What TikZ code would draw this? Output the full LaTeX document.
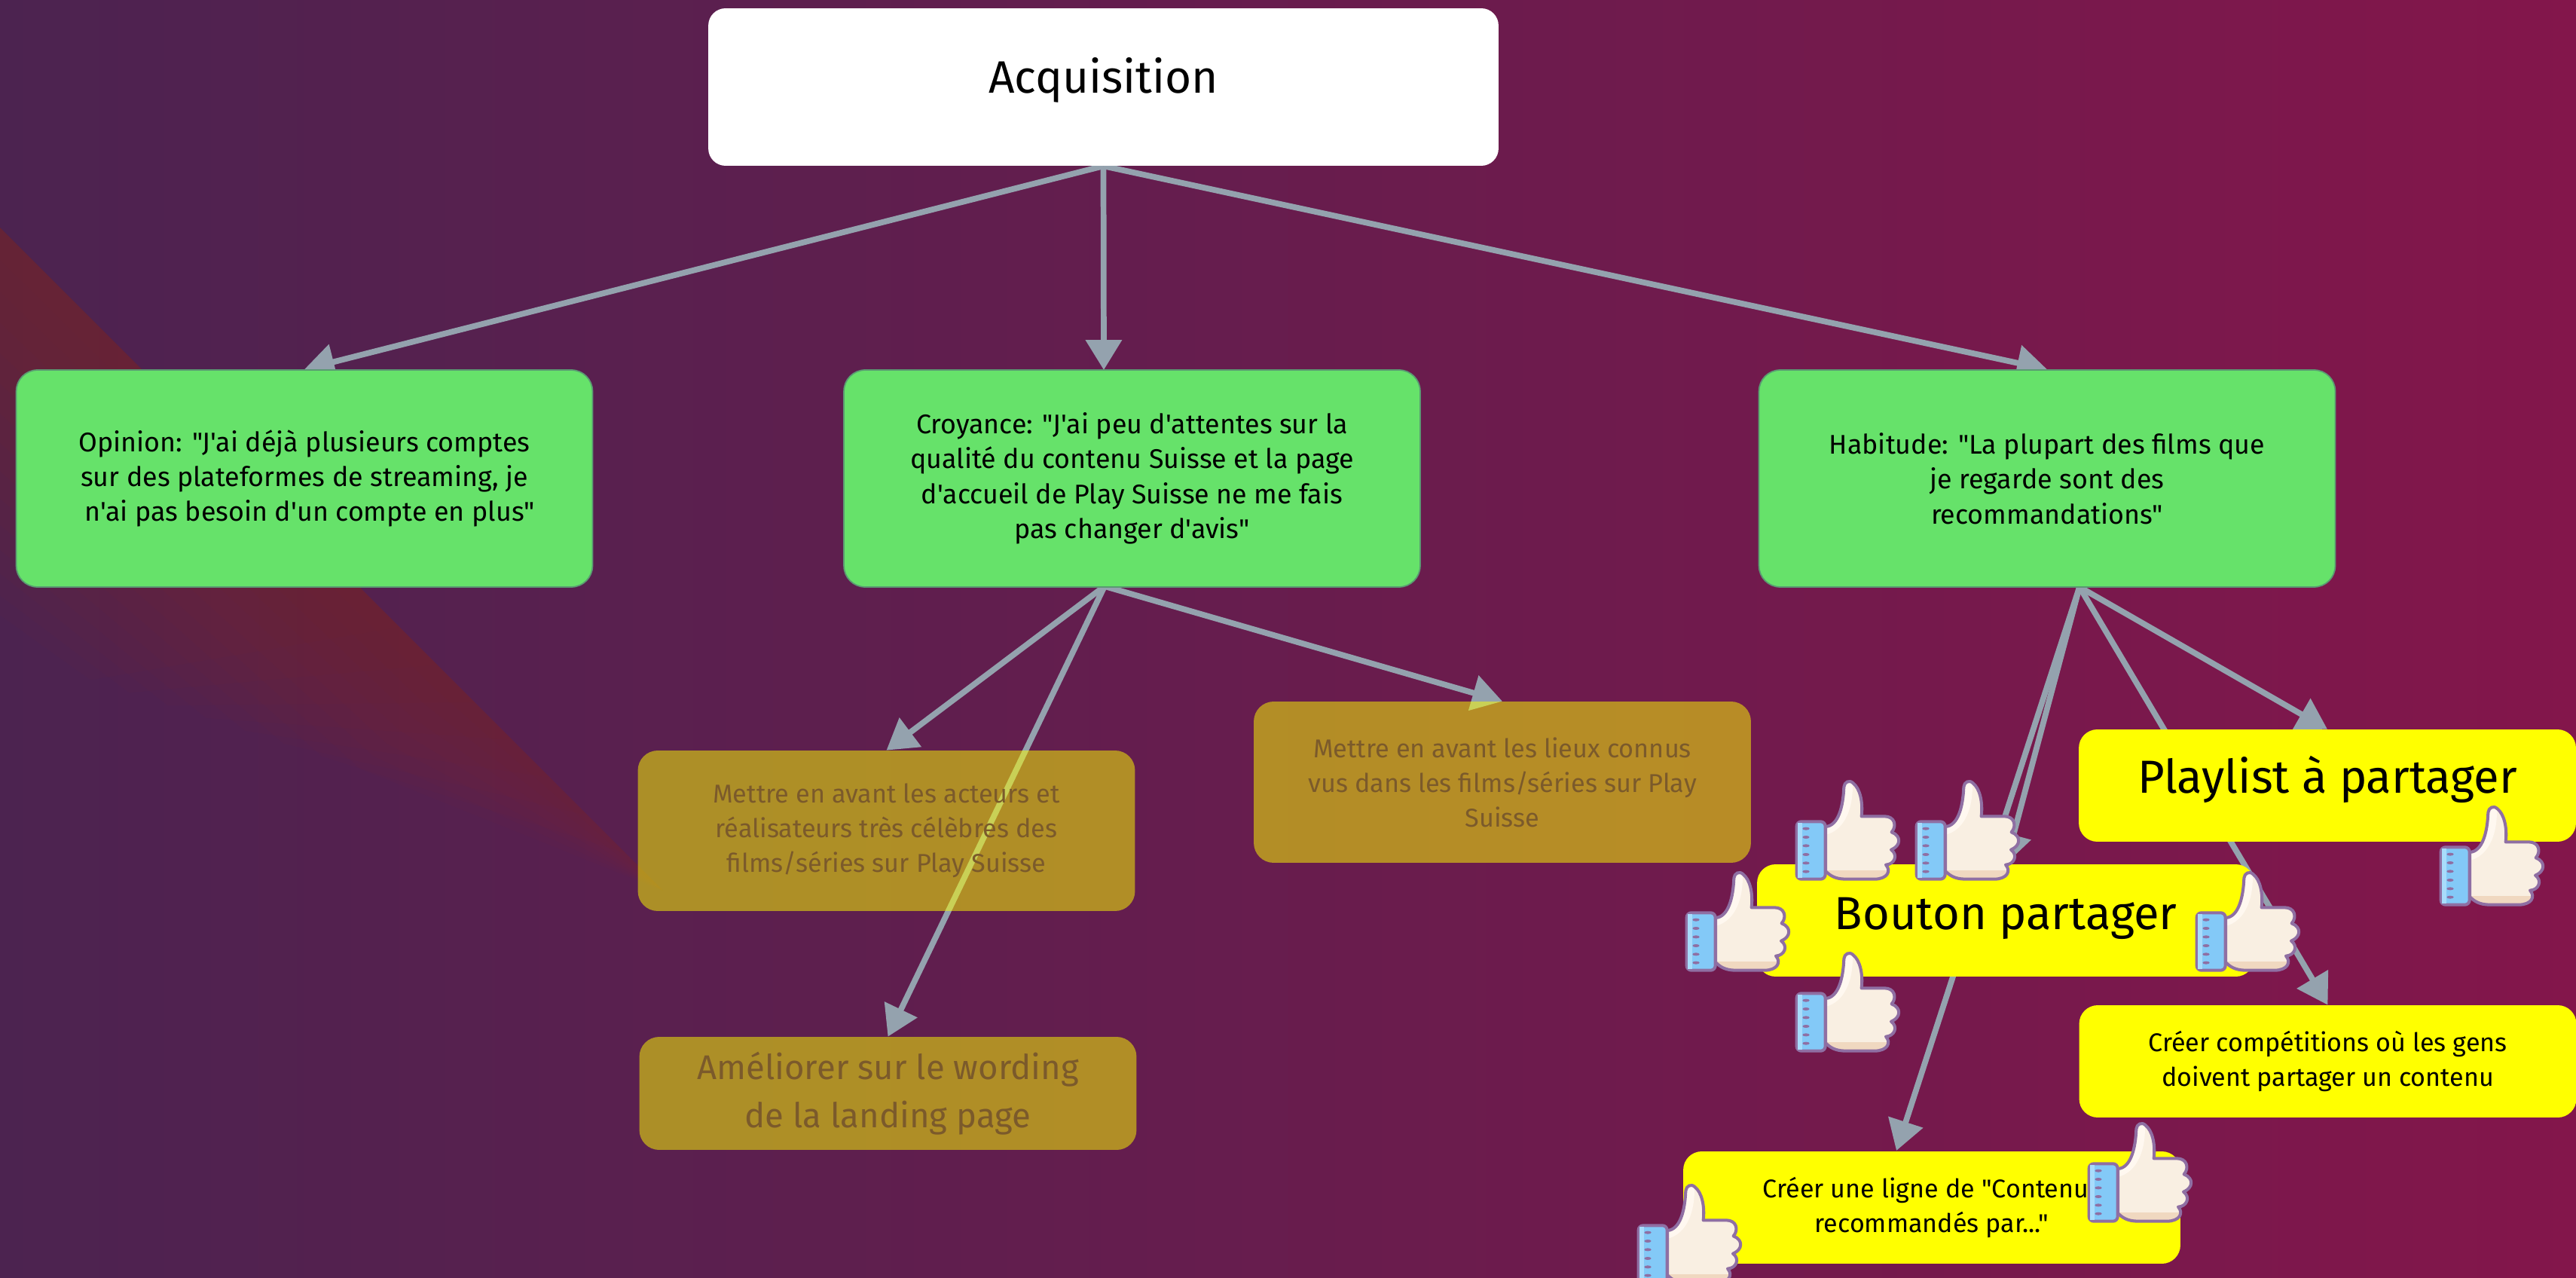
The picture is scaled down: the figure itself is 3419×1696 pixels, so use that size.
\documentclass[tikz,border=0pt]{standalone}
\usepackage{fontspec}
\newfontfamily\uifont{Fira Sans}
\usetikzlibrary{arrows.meta,backgrounds}
\pgfdeclarelayer{bglayer}
\pgfdeclarelayer{arrowlayer}
\pgfsetlayers{bglayer,arrowlayer,main}
\definecolor{linegray}{HTML}{94A2AE}
\definecolor{greenbox}{HTML}{66E26A}
\definecolor{greenedge}{HTML}{5A9A72}
\definecolor{goldtext}{HTML}{7B5A2B}
\definecolor{thumbline}{HTML}{8F6FA3}
\definecolor{pureyellow}{RGB}{255,255,0}
\definecolor{thumbskin}{RGB}{249,239,226}
\definecolor{thumblight}{RGB}{255,248,240}
\definecolor{thumbshade}{RGB}{240,216,192}
\definecolor{cuff}{RGB}{131,201,247}
\definecolor{cufflight}{RGB}{168,220,251}
\definecolor{bgleft}{RGB}{76,35,80}
\definecolor{bgmid}{RGB}{102,30,76}
\definecolor{bgright}{RGB}{131,22,75}
\definecolor{stripe}{RGB}{170,50,20}
\newcommand{\fs}[2]{\uifont\fontsize{#1}{#2}\selectfont}
\tikzset{
  conn/.style={draw=linegray,line width=4.4pt,-{Triangle[length=22.7pt,width=26.6pt]}},
  basebox/.style={inner sep=0pt,align=center,text=black},
  titlebox/.style={basebox,fill=white,rounded corners=13pt,minimum width=20.98cm,minimum height=4.18cm},
  greennode/.style={basebox,fill=greenbox,draw=greenedge,line width=1pt,rounded corners=16pt,minimum width=15.3cm,minimum height=5.76cm,font=\fs{20.4}{26.4}},
  goldnode/.style={basebox,fill=pureyellow,fill opacity=0.5,text opacity=1,text=goldtext,rounded corners=15pt,minimum width=13.2cm,font=\fs{19.5}{26.2}},
  yellownode/.style={basebox,fill=pureyellow,rounded corners=14pt,minimum width=13.2cm,minimum height=2.98cm,font=\fs{19.4}{26.4}},
  thumb/.pic={
    \begin{scope}[x=0.006667cm,y=-0.006667cm,shift={(-95,-45)}]
      \def\handpath{(215,228) .. controls (265,225) and (285,150) .. (288,70) .. controls (290,50) and (310,40) .. (325,55) .. controls (350,75) and (365,125) .. (358,187) -- (450,187) .. controls (490,187) and (500,225) .. (478,250) .. controls (518,265) and (515,305) .. (476,320) .. controls (505,340) and (490,378) .. (455,380) .. controls (478,405) and (460,437) .. (410,437) -- (295,437) .. controls (250,437) and (230,420) .. (215,405) -- cycle}
      \begin{scope}
        \clip \handpath;
        \fill[thumbskin] (200,30) rectangle (520,440);
        \fill[thumblight] (200,263) .. controls (280,255) and (330,170) .. (322,40) -- (270,30) -- (200,150) -- cycle;
        \fill[thumbshade] (200,402) rectangle (520,440);
      \end{scope}
      \draw[thumbline,line width=2.3pt,line join=round] \handpath;
      \draw[thumbline,line width=2.3pt,fill=cuff,rounded corners=3.5pt] (100,208) rectangle (214,437);
      \fill[cufflight] (104,214) rectangle (122,431);
      \foreach \dy in {236,270,304,339,373,407}{\fill[thumbline] (137,\dy) ellipse (14 and 6);}
    \end{scope}
  }
}
\begin{document}
\begin{tikzpicture}[x=0.02cm,y=-0.02cm]
\useasboundingbox (0,0) rectangle (3419,1696);
\begin{pgfonlayer}{bglayer}
  \shade[left color=bgleft,middle color=bgmid,right color=bgright] (0,0) rectangle (3419,1696);
  \foreach \i in {1,...,14}{
    \pgfmathsetmacro{\w}{300*\i/14}
    \pgfmathsetmacro{\a}{880-50*max(0,\i-7)}
    \fill[stripe,opacity=0.028] (0,302) -- (\a,\a+302) -- (0.68*\a-0.8*\w,0.68*\a+302+0.8*\w) -- (-\w,302+\w) -- cycle;
  }
\end{pgfonlayer}

\node[titlebox,font=\fs{34.3}{44},text height=24pt,text depth=14.7pt] (acq) at (1464.5,115.5) {Acquisition};
\node[greennode] (op) at (404,635) {Opinion: "J'ai déjà plusieurs comptes\\sur des plateformes de streaming, je\\\hspace*{8pt}n'ai pas besoin d'un compte en plus"};
\node[greennode] (cr) at (1502.5,635) {Croyance: "J'ai peu d'attentes sur la\\qualité du contenu Suisse et la page\\d'accueil de Play Suisse ne me fais\\pas changer d'avis"};
\node[greennode] (ha) at (2717,635) {Habitude: "La plupart des films que\\je regarde sont des\\recommandations"};
\node[goldnode,minimum height=4.26cm] (g1) at (1176.5,1102.5) {Mettre en avant les acteurs et\\réalisateurs très célèbres des\\films/séries sur Play Suisse};
\node[goldnode,minimum height=4.28cm] (g2) at (1994,1038) {Mettre en avant les lieux connus\\vus dans les films/séries sur Play\\Suisse};
\node[goldnode,minimum height=3cm,font=\fs{25.9}{36}] (g3) at (1178.5,1451) {Améliorer sur le wording\\de la landing page};
\node[yellownode,font=\fs{35}{44},text height=26pt,text depth=15pt] (pl) at (3089,1042.5) {Playlist à partager};
\node[yellownode,font=\fs{35}{44},text height=26pt,text depth=12.5pt] (bo) at (2662,1221.5) {Bouton partager};
\node[yellownode] (co) at (3089.5,1408.5) {Créer compétitions où les gens\\doivent partager un contenu};
\node[yellownode] (ct) at (2564,1602.5) {Créer une ligne de "Contenus\\recommandés par..."};

\coordinate (crs) at (1466,778);
\coordinate (has) at (2760,779);
\coordinate (ctin) at (2517,1527);
\coordinate (crin) at (1465,491);

\begin{pgfonlayer}{arrowlayer}
  \draw[conn] (acq.south) -- (op.north);
  \draw[conn] (acq.south) -- (crin);
  \draw[conn] (acq.south) -- (ha.north);
  \draw[conn] (crs) -- (g1.north);
  \draw[conn] (crs) -- (g2.north);
  \draw[conn] (crs) -- (g3.north);
  \draw[conn] (has) -- (bo.north);
  \draw[conn] (has) -- (ctin);
  \draw[conn] (has) -- (pl.north);
  \draw[conn] (has) -- (co.north);
\end{pgfonlayer}

\pic at (2383,1036) {thumb};
\pic at (2542,1036) {thumb};
\pic at (2237,1157) {thumb};
\pic at (2914,1157) {thumb};
\pic at (2383,1264) {thumb};
\pic at (3238,1070) {thumb};
\pic at (2771,1490) {thumb};
\pic at (2173,1572) {thumb};
\end{tikzpicture}
\end{document}
